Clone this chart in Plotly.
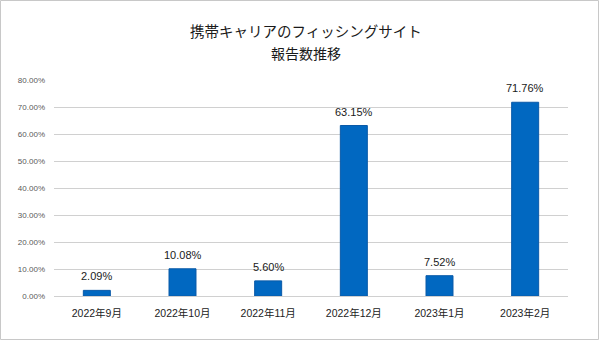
import plotly.graph_objects as go

categories = ["2022年9月", "2022年10月", "2022年11月", "2022年12月", "2023年1月", "2023年2月"]
values = [0.0209, 0.1008, 0.0560, 0.6315, 0.0752, 0.7176]
labels = ["2.09%", "10.08%", "5.60%", "63.15%", "7.52%", "71.76%"]
title_lines = ["携帯キャリアのフィッシングサイト", "報告数推移"]

W, H = 600, 341
L, R, T, B = 54, 32, 80, 45
pw, ph = W - L - R, H - T - B
FONT = "Liberation Sans, Arial, Noto Sans CJK JP"

fig = go.Figure(go.Bar(
    x=categories, y=values,
    marker=dict(color="#0168c1", line=dict(color="#0a5aa8", width=1)),
    width=0.315,
))

def px_x(x):
    return (x - L) / pw

def px_y(y):
    return (H - B - y) / ph

ann = [
    dict(text=title_lines[0], xref="paper", yref="paper", x=px_x(306), y=px_y(30),
         xanchor="center", yanchor="middle", showarrow=False,
         font=dict(size=14.5, color="#1a1a1a", family="Noto Sans CJK JP")),
    dict(text=title_lines[1], xref="paper", yref="paper", x=px_x(306), y=px_y(53),
         xanchor="center", yanchor="middle", showarrow=False,
         font=dict(size=14, color="#1a1a1a", family="Noto Sans CJK JP")),
]
for c, v, t in zip(categories, values, labels):
    ann.append(dict(text=t, x=c, y=v, xref="x", yref="y", xanchor="center",
                    yanchor="bottom", yshift=6, showarrow=False,
                    font=dict(size=11, color="#1a1a1a", family=FONT)))

fig.update_layout(
    width=W, height=H,
    margin=dict(l=L, r=R, t=T, b=B),
    paper_bgcolor="white", plot_bgcolor="white",
    showlegend=False,
    font=dict(family=FONT, color="#595959"),
    xaxis=dict(tickfont=dict(size=10.5, color="#222222", family=FONT), showline=False,
               showgrid=False, ticks="", ticklabelstandoff=9, fixedrange=True),
    yaxis=dict(range=[0, 0.8], dtick=0.1, tickformat=".2%",
               tickfont=dict(size=8, color="#595959", family=FONT),
               gridcolor="#d0d0d0", gridwidth=1, zeroline=True,
               zerolinecolor="#d0d0d0", zerolinewidth=1, showline=False,
               ticks="", ticklabelstandoff=8, fixedrange=True),
    annotations=ann,
    shapes=[dict(type="rect", xref="paper", yref="paper",
                 x0=px_x(0.5), x1=px_x(598.5), y0=px_y(339.5), y1=px_y(0.5),
                 line=dict(color="#c8c8c8", width=1), fillcolor="rgba(0,0,0,0)", layer="below")],
)

fig.write_html("out.html")
